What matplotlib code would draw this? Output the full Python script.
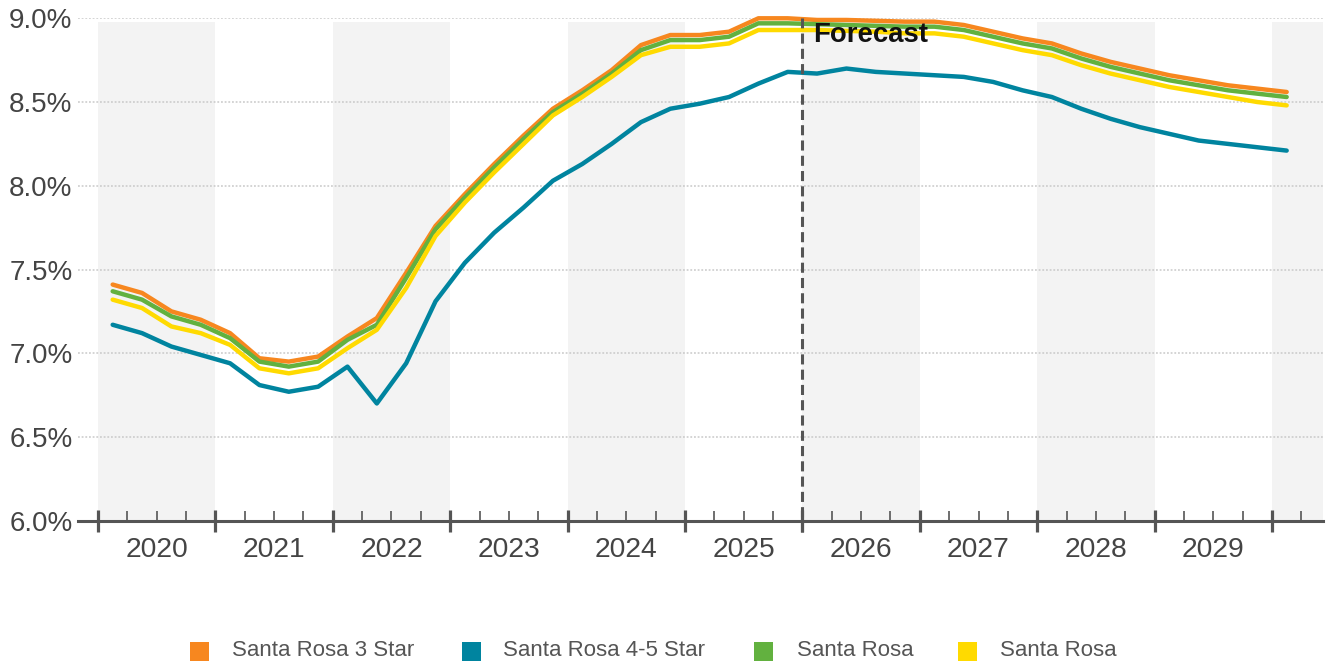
import matplotlib
matplotlib.use("Agg")
import matplotlib.pyplot as plt
from matplotlib.patches import Rectangle
from matplotlib.transforms import blended_transform_factory
import numpy as np

plt.rcParams['font.family'] = ['Liberation Sans', 'DejaVu Sans']

# ---- data (quarterly, 2020 Q1 .. 2030 Q1) ----
start_year = 2020
years = list(range(2020, 2030))
series_names = ["Santa Rosa 3 Star", "Santa Rosa 4-5 Star", "Santa Rosa", "Santa Rosa"]
series_colors = ["#F7871F", "#00849F", "#62B13F", "#FFDA00"]

star3 = [7.41, 7.36, 7.25, 7.20,
         7.12, 6.97, 6.95, 6.98,
         7.10, 7.21, 7.48, 7.76,
         7.95, 8.13, 8.30, 8.46,
         8.57, 8.69, 8.84, 8.90,
         8.90, 8.92, 9.00, 9.00,
         8.99, 8.99, 8.985, 8.98,
         8.98, 8.96, 8.92, 8.88,
         8.85, 8.79, 8.74, 8.70,
         8.66, 8.63, 8.60, 8.58,
         8.56]
star45 = [7.17, 7.12, 7.04, 6.99,
          6.94, 6.81, 6.77, 6.80,
          6.92, 6.70, 6.94, 7.31,
          7.54, 7.72, 7.87, 8.03,
          8.13, 8.25, 8.38, 8.46,
          8.49, 8.53, 8.61, 8.68,
          8.67, 8.70, 8.68, 8.67,
          8.66, 8.65, 8.62, 8.57,
          8.53, 8.46, 8.40, 8.35,
          8.31, 8.27, 8.25, 8.23,
          8.21]
market = [7.37, 7.32, 7.22, 7.17,
          7.09, 6.95, 6.92, 6.95,
          7.08, 7.17, 7.45, 7.74,
          7.93, 8.11, 8.28, 8.44,
          8.55, 8.67, 8.81, 8.87,
          8.87, 8.89, 8.97, 8.97,
          8.965, 8.96, 8.955, 8.95,
          8.95, 8.93, 8.89, 8.85,
          8.82, 8.76, 8.71, 8.67,
          8.63, 8.60, 8.57, 8.55,
          8.53]
market2 = [7.32, 7.27, 7.16, 7.12,
           7.05, 6.91, 6.88, 6.91,
           7.03, 7.14, 7.39, 7.70,
           7.90, 8.08, 8.25, 8.42,
           8.53, 8.65, 8.78, 8.83,
           8.83, 8.85, 8.93, 8.93,
           8.93, 8.925, 8.92, 8.91,
           8.91, 8.89, 8.85, 8.81,
           8.78, 8.72, 8.67, 8.63,
           8.59, 8.56, 8.53, 8.50,
           8.48]
series_values = [star3, star45, market, market2]
forecast_start = 2026.0
y_ticks = [6.0, 6.5, 7.0, 7.5, 8.0, 8.5, 9.0]

# ---- figure ----
W, H = 1328, 669
fig = plt.figure(figsize=(W / 100, H / 100), dpi=100)

def fx(px):
    return px / W

def fy(py):
    return 1 - py / H

ax_l, ax_r, ax_t, ax_b = 78, 1323, 18.3, 520.7
ax = fig.add_axes([fx(ax_l), fy(ax_b), fx(ax_r) - fx(ax_l), fy(ax_t) - fy(ax_b)])

px_per_year = 117.4
x_min = start_year + (ax_l - 98) / px_per_year
x_max = start_year + (ax_r - 98) / px_per_year
ax.set_xlim(x_min, x_max)
ax.set_ylim(6.0, 9.0)

# alternating year shading
for yr in range(2020, 2031, 2):
    ax.axvspan(yr, min(yr + 1, x_max), ymin=0, ymax=0.993, color="#F3F3F3", lw=0, zorder=0)

# dotted gridlines
for v in y_ticks[1:]:
    ax.axhline(v, color="#C9C9C9", lw=1.1, ls=(0, (1.2, 1.2)), zorder=1)

n = len(star3)
xs = start_year + (np.arange(n) + 0.5) / 4.0
for vals, col in zip(series_values, series_colors):
    ax.plot(xs, vals, color=col, lw=3.2, solid_joinstyle="round",
            solid_capstyle="round", zorder=3, clip_on=False)

# forecast divider
ax.plot([forecast_start, forecast_start], [6.0 - 0.07, 9.0], color="#555555", lw=2.2,
        ls=(0, (3.3, 1.7)), zorder=4, clip_on=False)
ax.text(forecast_start + 11 / px_per_year, 8.9, "Forecast", fontsize=19.8, fontweight="bold",
        color="#111111", ha="left", va="center", zorder=5)

# spines & ticks
for s in ["top", "right", "left"]:
    ax.spines[s].set_visible(False)
ax.spines["bottom"].set_color("#555555")
ax.spines["bottom"].set_linewidth(2.2)
ax.spines["bottom"].set_zorder(6)

ax.set_yticks(y_ticks)
ax.set_yticklabels([f"{v:.1f}%" for v in y_ticks])
ax.tick_params(axis="y", length=0, pad=4, labelsize=20, labelcolor="#444444")

ax.set_xticks(list(range(2020, 2031)))
ax.set_xticks([y + q / 4 for y in range(2020, 2031) for q in (1, 2, 3) if y + q / 4 < x_max], minor=True)
ax.set_xticklabels([])
ax.tick_params(axis="x", which="major", direction="inout", length=16, width=2.3, color="#555555")
ax.tick_params(axis="x", which="minor", direction="in", length=7.5, width=1.2, color="#555555")

trans = blended_transform_factory(ax.transData, fig.transFigure)
for yr in years:
    ax.text(yr + 0.5, fy(550), str(yr), transform=trans, ha="center", va="center",
            fontsize=20.3, color="#444444")

# legend
sq_x = [190, 462, 754, 958]
txt_x = [232, 503, 797, 1000]
for name, col, sx, tx in zip(series_names, series_colors, sq_x, txt_x):
    fig.patches.append(Rectangle((fx(sx), fy(661)), fx(19), 19 / H, transform=fig.transFigure,
                                 facecolor=col, edgecolor="none"))
    fig.text(fx(tx), fy(651), name, ha="left", va="center", fontsize=16, color="#555555")

fig.savefig("out.png", dpi=100, facecolor="white")
